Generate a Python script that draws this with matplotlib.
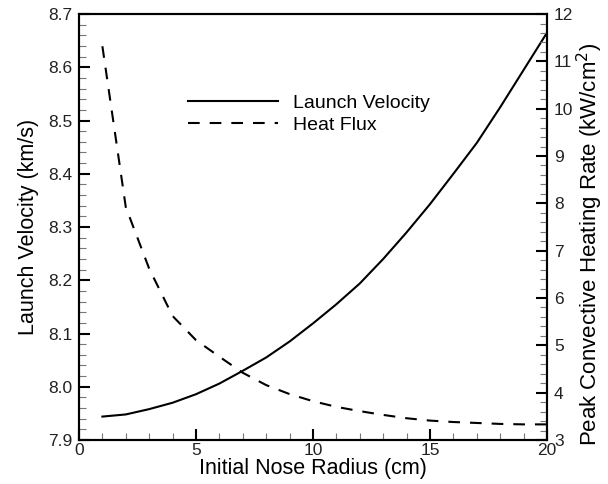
import numpy as np
import matplotlib
matplotlib.use("Agg")
import matplotlib.pyplot as plt
from matplotlib.ticker import MultipleLocator

plt.rcParams['font.family'] = ['Liberation Sans', 'DejaVu Sans']

# Data
nose_radius = [1, 2, 3, 4, 5, 6, 7, 8, 9, 10, 11, 12, 13, 14, 15, 16, 17, 18, 19, 20]
launch_velocity = [7.944, 7.948, 7.958, 7.970, 7.986, 8.006, 8.030, 8.055, 8.085, 8.119,
                   8.155, 8.194, 8.240, 8.290, 8.343, 8.400, 8.458, 8.525, 8.595, 8.665]
heat_flux = [11.32, 7.92, 6.62, 5.62, 5.11, 4.76, 4.42, 4.16, 3.97, 3.82,
             3.70, 3.61, 3.53, 3.46, 3.41, 3.38, 3.36, 3.34, 3.33, 3.33]

fig = plt.figure(figsize=(6.08, 4.84), dpi=100)
ax = fig.add_axes([0.1299, 0.0909, 0.7698, 0.8801])
ax2 = ax.twinx()

l1, = ax.plot(nose_radius, launch_velocity, color="black", lw=1.5, label="Launch Velocity")
l2, = ax2.plot(nose_radius, heat_flux, color="black", lw=1.5, dashes=(5.6, 4.8), label="Heat Flux")

ax.set_xlim(0, 20)
ax.set_ylim(7.9, 8.7)
ax2.set_ylim(3, 12)

ax.xaxis.set_major_locator(MultipleLocator(5))
ax.xaxis.set_minor_locator(MultipleLocator(1))
ax.yaxis.set_major_locator(MultipleLocator(0.1))
ax.yaxis.set_minor_locator(MultipleLocator(0.02))
ax2.yaxis.set_major_locator(MultipleLocator(1))
ax2.yaxis.set_minor_locator(MultipleLocator(0.2))
ax.yaxis.set_major_formatter(plt.FormatStrFormatter("%.1f"))

for a in (ax, ax2):
    for s in a.spines.values():
        s.set_linewidth(1.5)
    a.tick_params(which="major", direction="in", length=8, width=1.5, labelsize=12.5, colors="black")
    a.tick_params(which="minor", direction="in", length=5, width=0.8, color="#777777")
ax.tick_params(axis="y", which="major", pad=5)
ax.tick_params(axis="x", which="major", pad=2)
ax2.tick_params(axis="y", which="major", pad=5)
ax.tick_params(labelcolor="#222222")
ax2.tick_params(labelcolor="#222222")

ax.set_xlabel("Initial Nose Radius (cm)", fontsize=15.5, labelpad=0)
ax.set_ylabel("Launch Velocity (km/s)", fontsize=15.5, labelpad=6)
ax2.set_ylabel("Peak Convective Heating Rate (kW/cm$^2$)", fontsize=16)
ax2.yaxis.set_label_coords(1.06, 0.46)

ax.legend(handles=[l1, l2], loc="upper left", bbox_to_anchor=(0.196, 0.852),
          frameon=False, fontsize=14, handlelength=4.6, handletextpad=0.77,
          labelspacing=0.2)

fig.savefig("out.png", dpi=100)
